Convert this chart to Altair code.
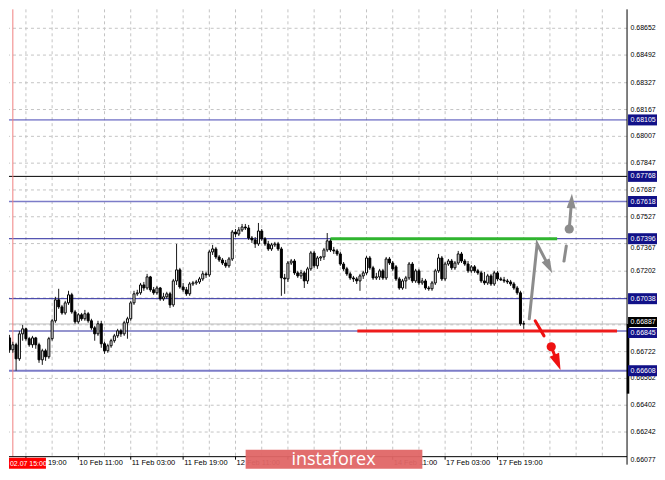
import altair as alt
import pandas as pd

# ---------------- data ----------------
opens = [0.66977,0.66876,0.66804,0.66733,0.66763,0.66679,0.66828,0.66858,0.66799,0.66763,
0.66804,0.66763,0.66673,0.66727,0.66691,0.66799,0.66906,0.67031,0.66989,0.66953,
0.67013,0.67061,0.66959,0.66900,0.66942,0.66918,0.66948,0.66906,0.66864,0.66828,
0.66888,0.66769,0.66727,0.66757,0.66787,0.66816,0.66846,0.66828,0.66894,0.66918,
0.67013,0.67067,0.67073,0.67120,0.67102,0.67168,0.67091,0.67073,0.67102,0.67037,
0.67049,0.67067,0.67001,0.67144,0.67210,0.67108,0.67091,0.67067,0.67126,0.67132,
0.67138,0.67156,0.67186,0.67180,0.67317,0.67335,0.67287,0.67269,0.67251,0.67234,
0.67275,0.67436,0.67424,0.67448,0.67466,0.67460,0.67400,0.67389,0.67365,0.67442,
0.67395,0.67365,0.67335,0.67359,0.67365,0.67335,0.67162,0.67156,0.67251,0.67263,
0.67192,0.67174,0.67192,0.67144,0.67216,0.67311,0.67234,0.67281,0.67287,0.67329,
0.67383,0.67329,0.67323,0.67305,0.67245,0.67216,0.67186,0.67162,0.67156,0.67144,
0.67174,0.67192,0.67281,0.67222,0.67162,0.67168,0.67204,0.67162,0.67275,0.67251,
0.67228,0.67156,0.67102,0.67144,0.67162,0.67245,0.67144,0.67204,0.67132,0.67144,
0.67102,0.67097,0.67132,0.67204,0.67281,0.67156,0.67245,0.67263,0.67222,0.67251,
0.67305,0.67263,0.67245,0.67204,0.67228,0.67204,0.67192,0.67144,0.67132,0.67174,
0.67126,0.67192,0.67156,0.67150,0.67144,0.67138,0.67126,0.67102,0.67073,0.66888]

closes = [0.66876,0.66804,0.66733,0.66763,0.66679,0.66828,0.66858,0.66799,0.66763,0.66804,
0.66763,0.66673,0.66727,0.66691,0.66799,0.66906,0.67031,0.66989,0.66953,0.67013,
0.67061,0.66959,0.66900,0.66942,0.66918,0.66948,0.66906,0.66864,0.66828,0.66888,
0.66769,0.66727,0.66757,0.66787,0.66816,0.66846,0.66828,0.66894,0.66918,0.67013,
0.67067,0.67073,0.67120,0.67102,0.67168,0.67091,0.67073,0.67102,0.67037,0.67049,
0.67067,0.67001,0.67144,0.67210,0.67108,0.67091,0.67067,0.67126,0.67132,0.67138,
0.67156,0.67186,0.67180,0.67317,0.67335,0.67287,0.67269,0.67251,0.67234,0.67275,
0.67436,0.67424,0.67448,0.67466,0.67460,0.67400,0.67389,0.67365,0.67442,0.67395,
0.67365,0.67335,0.67359,0.67365,0.67335,0.67162,0.67156,0.67251,0.67263,0.67192,
0.67174,0.67192,0.67144,0.67216,0.67311,0.67234,0.67281,0.67287,0.67329,0.67383,
0.67329,0.67323,0.67305,0.67245,0.67216,0.67186,0.67162,0.67156,0.67144,0.67174,
0.67192,0.67281,0.67222,0.67162,0.67168,0.67204,0.67162,0.67275,0.67251,0.67216,
0.67156,0.67102,0.67144,0.67162,0.67245,0.67144,0.67204,0.67132,0.67144,0.67102,
0.67097,0.67132,0.67204,0.67281,0.67156,0.67245,0.67263,0.67222,0.67251,0.67305,
0.67263,0.67245,0.67204,0.67228,0.67204,0.67192,0.67144,0.67132,0.67174,0.67126,
0.67192,0.67156,0.67150,0.67144,0.67138,0.67126,0.67102,0.67073,0.66888,0.66887]

highs = [0.67001,0.66894,0.66822,0.66781,0.66775,0.66846,0.66882,0.66864,0.66810,0.66816,
0.66810,0.66775,0.66739,0.66739,0.66810,0.66918,0.67049,0.67097,0.67001,0.67025,
0.67085,0.67073,0.66971,0.66953,0.66953,0.66971,0.66959,0.66918,0.66876,0.66906,
0.66906,0.66781,0.66769,0.66799,0.66828,0.66858,0.66858,0.66906,0.66930,0.67025,
0.67085,0.67091,0.67132,0.67138,0.67186,0.67174,0.67108,0.67114,0.67108,0.67073,
0.67079,0.67079,0.67156,0.67365,0.67222,0.67132,0.67108,0.67138,0.67144,0.67150,
0.67168,0.67204,0.67198,0.67329,0.67359,0.67347,0.67299,0.67281,0.67269,0.67287,
0.67448,0.67454,0.67466,0.67484,0.67484,0.67478,0.67412,0.67406,0.67490,0.67454,
0.67406,0.67383,0.67371,0.67377,0.67377,0.67347,0.67186,0.67263,0.67275,0.67275,
0.67204,0.67210,0.67204,0.67228,0.67323,0.67323,0.67293,0.67293,0.67341,0.67430,
0.67395,0.67347,0.67335,0.67317,0.67257,0.67228,0.67198,0.67174,0.67168,0.67186,
0.67204,0.67293,0.67293,0.67234,0.67192,0.67216,0.67216,0.67287,0.67287,0.67263,
0.67239,0.67168,0.67156,0.67174,0.67257,0.67257,0.67216,0.67216,0.67162,0.67156,
0.67114,0.67144,0.67216,0.67305,0.67293,0.67257,0.67275,0.67275,0.67263,0.67323,
0.67317,0.67275,0.67263,0.67239,0.67239,0.67216,0.67204,0.67198,0.67186,0.67186,
0.67204,0.67204,0.67168,0.67168,0.67156,0.67150,0.67138,0.67114,0.67085,0.66906]

lows = [0.66846,0.66787,0.66715,0.66715,0.66608,0.66667,0.66787,0.66787,0.66751,0.66745,
0.66739,0.66655,0.66643,0.66667,0.66679,0.66787,0.66894,0.66977,0.66942,0.66942,
0.67001,0.66948,0.66888,0.66888,0.66906,0.66906,0.66894,0.66852,0.66787,0.66816,
0.66745,0.66709,0.66715,0.66745,0.66775,0.66804,0.66810,0.66816,0.66799,0.66906,
0.67001,0.67055,0.67061,0.67085,0.67091,0.67079,0.67061,0.67061,0.67025,0.67025,
0.67037,0.66983,0.66989,0.67120,0.67097,0.67079,0.67055,0.67055,0.67114,0.67120,
0.67126,0.67144,0.67162,0.67168,0.67299,0.67275,0.67257,0.67239,0.67222,0.67222,
0.67263,0.67406,0.67412,0.67436,0.67448,0.67389,0.67371,0.67341,0.67353,0.67383,
0.67353,0.67323,0.67323,0.67347,0.67323,0.67055,0.67067,0.67138,0.67239,0.67180,
0.67162,0.67156,0.67102,0.67126,0.67204,0.67222,0.67216,0.67263,0.67269,0.67317,
0.67317,0.67305,0.67293,0.67234,0.67204,0.67174,0.67150,0.67138,0.67126,0.67085,
0.67156,0.67180,0.67210,0.67150,0.67150,0.67150,0.67150,0.67150,0.67239,0.67204,
0.67144,0.67091,0.67091,0.67097,0.67150,0.67132,0.67132,0.67120,0.67120,0.67091,
0.67085,0.67085,0.67120,0.67192,0.67144,0.67144,0.67234,0.67210,0.67210,0.67239,
0.67251,0.67234,0.67192,0.67192,0.67192,0.67180,0.67132,0.67120,0.67120,0.67114,
0.67114,0.67144,0.67144,0.67132,0.67126,0.67114,0.67091,0.67061,0.66876,0.66858]

# price levels (horizontal lines) and their right-edge labels
levels = [0.68105, 0.67768, 0.67618, 0.67396, 0.67038, 0.66608]
level_line_colors = ["#4646b4", "#000000", "#7c7cc8", "#2a2a9e", "#2a2a9e", "#7c7cc8"]
level_line_widths = [1, 1, 1.5, 1, 1, 2]
bid_level = 0.66887          # current price (black box)
support_level = 0.66845      # blue box just below it

# y axis: grid at every tick, labels where the reference shows them
y_ticks = [0.68652, 0.68492, 0.68327, 0.68167, 0.68007, 0.67847, 0.67687, 0.67527, 0.67367,
           0.67202, 0.67042, 0.66882, 0.66722, 0.66562, 0.66402, 0.66242, 0.66077]
y_labels_shown = [0.68652, 0.68492, 0.68327, 0.68167, 0.68007, 0.67847, 0.67687, 0.67527,
                  0.67202, 0.66722, 0.66562, 0.66402, 0.66242, 0.66077]
y_label_peek = 0.67367       # mostly hidden below the 0.67396 box

# time axis (bar index based, one bar = 1 hour, weekend skipped)
x_tick_pos = [7, 23, 39, 55, 71, 87, 103, 119, 135, 151]
x_label_pos = [23, 39, 55, 71, 119, 135, 151]
x_label_text = ["10 Feb 11:00", "11 Feb 03:00", "11 Feb 19:00", "12 Feb 11:00",
                "14 Feb 11:00", "17 Feb 03:00", "17 Feb 19:00"]
first_label_pos = 7
first_label_text = "19:00"
v_grid = [7, 15, 23, 31, 39, 47, 55, 63, 71, 79, 87, 95, 103, 111, 119, 127, 135, 143, 151,
          159, 167, 175, 183]
marker_bar = 3            # 02.07 15:00
marker_label = "02.07 15:00"

# green resistance and red support segments
green_seg = {"x0": 100, "x1": 169.2, "p": 0.67396}
red_seg = {"x0": 108.2, "x1": 187.5, "p": 0.66845}

# drawn forecast arrows: (group, bar index, price)
arrow_paths = [
    ("g1", 160.7, 0.66918), ("g1", 163.1, 0.67365), ("g1", 166.7, 0.67229),
    ("g2", 171.3, 0.67263), ("g2", 172.0, 0.67353),
    ("g3", 172.9, 0.67454), ("g3", 173.6, 0.67621),
    ("r1", 162.5, 0.66906), ("r1", 165.2, 0.66816),
    ("r2", 167.4, 0.66751), ("r2", 169.3, 0.66658),
]
arrow_colors = {"g": "#8c8c8c", "r": "#ee1111"}
dots = [(172.9, 0.67454, "g"), (167.4, 0.66751, "r")]
heads = [(166.7, 0.67229, 153, "g", 210), (173.6, 0.67621, 3, "g", 210), (169.3, 0.66658, 158, "r", 270)]

price_bar = [0.66887, 0.66471]

# ---------------- chart ----------------
X_DOMAIN = [1.83, 190.55]
Y_DOMAIN = [0.66095, 0.68765]
W, H = 619, 448
FONT = "Liberation Sans"
FS = 7.5
YFS = 7
NAVY = "#111188"
BOX_R = W + 30

xs = alt.Scale(domain=X_DOMAIN, nice=False, zero=False, padding=0)
ys = alt.Scale(domain=Y_DOMAIN, nice=False, zero=False, padding=0)


def X(f):
    return alt.X(f, type="quantitative", scale=xs, axis=None)


def Y(f):
    return alt.Y(f, type="quantitative", scale=ys, axis=None)


one = pd.DataFrame({"a": [0]})

candles = pd.DataFrame({"i": list(range(len(opens))), "open": opens, "close": closes,
                        "high": highs, "low": lows})
candles["dir"] = ["up" if c >= o else "down" for o, c in zip(opens, closes)]

# grid
vgrid = alt.Chart(pd.DataFrame({"i": v_grid})).mark_rule(
    color="#c4c4c4", strokeDash=[3, 3], strokeWidth=1).encode(x=X("i"))
hgrid = alt.Chart(pd.DataFrame({"p": y_ticks})).mark_rule(
    color="#c4c4c4", strokeDash=[3, 3], strokeWidth=1, clip=True).encode(y=Y("p"))

lev_df = pd.DataFrame({"p": levels, "c": level_line_colors, "w": level_line_widths})
lev_lines = alt.Chart(lev_df).mark_rule().encode(
    y=Y("p"), color=alt.Color("c:N", scale=None), size=alt.Size("w:Q", scale=None))
bid_line = alt.Chart(pd.DataFrame({"p": [bid_level]})).mark_rule(
    color="#bdbdbd", strokeWidth=1).encode(y=Y("p"))
sup_line = alt.Chart(pd.DataFrame({"p": [support_level]})).mark_rule(
    color="#2a2a9e", strokeWidth=1).encode(y=Y("p"))

marker_line = alt.Chart(pd.DataFrame({"i": [marker_bar]})).mark_rule(
    color="#f08080", strokeWidth=1).encode(x=X("i"))

wicks = alt.Chart(candles).mark_rule(color="#1a1a1a", strokeWidth=1, clip=True).encode(
    x=X("i"), y=Y("low"), y2="high")
bodies = alt.Chart(candles).mark_bar(size=2, stroke="#000000", strokeWidth=1, clip=True).encode(
    x=X("i"), y=Y("open"), y2="close",
    color=alt.Color("dir:N", scale=alt.Scale(domain=["up", "down"], range=["#ffffff", "#000000"]),
                    legend=None))

green = alt.Chart(pd.DataFrame([green_seg])).mark_rule(color="#2fb52f", strokeWidth=3).encode(
    x=X("x0"), x2="x1", y=Y("p"))
red = alt.Chart(pd.DataFrame([red_seg])).mark_rule(color="#ee1c1c", strokeWidth=3).encode(
    x=X("x0"), x2="x1", y=Y("p"))

ap = pd.DataFrame(arrow_paths, columns=["g", "i", "p"])
ap["k"] = range(len(ap))
ap["c"] = [arrow_colors[g[0]] for g in ap["g"]]
paths = alt.Chart(ap).mark_line(strokeWidth=3, strokeCap="round").encode(
    x=X("i"), y=Y("p"), detail="g:N", order="k:Q", color=alt.Color("c:N", scale=None))

dots_df = pd.DataFrame(dots, columns=["i", "p", "g"])
dots_df["c"] = [arrow_colors[g] for g in dots_df["g"]]
dot_marks = alt.Chart(dots_df).mark_point(shape="circle", filled=True, opacity=1, size=85).encode(
    x=X("i"), y=Y("p"), color=alt.Color("c:N", scale=None))

heads_df = pd.DataFrame(heads, columns=["i", "p", "a", "g", "s"])
heads_df["c"] = [arrow_colors[g] for g in heads_df["g"]]
head_marks = alt.Chart(heads_df).mark_point(shape="M0,-1L0.62,1L-0.62,1Z", filled=True,
                                             opacity=1).encode(
    x=X("i"), y=Y("p"), angle=alt.Angle("a:Q", scale=None), size=alt.Size("s:Q", scale=None),
    color=alt.Color("c:N", scale=None))

# axes drawn by hand
right_dom = alt.Chart(one).mark_rule(color="black", strokeWidth=1).encode(
    x=alt.value(W), y=alt.value(0), y2=alt.value(H + 8))
bottom_dom = alt.Chart(one).mark_rule(color="black", strokeWidth=1).encode(
    x=alt.value(0), x2=alt.value(W), y=alt.value(H))
ylab_df = pd.DataFrame({"p": y_labels_shown, "t": [f"{v:.5f}" for v in y_labels_shown]})
y_labels = alt.Chart(ylab_df).mark_text(align="left", baseline="middle", fontSize=YFS, font=FONT,
                                        color="black").encode(
    x=alt.value(W + 3.5), y=Y("p"), text="t:N")
y_peek = alt.Chart(pd.DataFrame({"p": [y_label_peek], "t": [f"{y_label_peek:.5f}"]})).mark_text(
    align="left", baseline="middle", fontSize=YFS, font=FONT, color="black", dy=4.5).encode(
    x=alt.value(W + 3.5), y=Y("p"), text="t:N")
x_ticks = alt.Chart(pd.DataFrame({"i": x_tick_pos})).mark_rule(color="black", strokeWidth=1).encode(
    x=X("i"), y=alt.value(H), y2=alt.value(H + 3))
xl_df = pd.DataFrame({"i": x_label_pos, "t": x_label_text})
x_labels = alt.Chart(xl_df).mark_text(align="left", baseline="top", fontSize=FS, font=FONT,
                                      color="black", dx=1).encode(
    x=X("i"), y=alt.value(H + 2), text="t:N")
x_first = alt.Chart(pd.DataFrame({"i": [first_label_pos], "t": [first_label_text]})).mark_text(
    align="left", baseline="top", fontSize=FS, font=FONT, color="black", dx=22).encode(
    x=X("i"), y=alt.value(H + 2), text="t:N")

pbar = alt.Chart(pd.DataFrame({"p0": [price_bar[0]], "p1": [price_bar[1]]})).mark_rule(
    color="black", strokeWidth=2.5).encode(x=alt.value(W + 1), y=Y("p0"), y2="p1")

# right-edge price boxes
lvl_box_df = pd.DataFrame({"p": levels, "t": [f"{v:.5f}" for v in levels]})
boxes = alt.Chart(lvl_box_df).mark_rect(yOffset=-5.5, y2Offset=5.5, color=NAVY).encode(
    x=alt.value(W + 1), x2=alt.value(BOX_R), y=Y("p"), y2="p")
box_text = alt.Chart(lvl_box_df).mark_text(align="left", baseline="middle", fontSize=YFS, font=FONT,
                                           color="white").encode(
    x=alt.value(W + 3.5), y=Y("p"), text="t:N")
bid_df = pd.DataFrame({"p": [bid_level], "t": [f"{bid_level:.5f}"]})
sup_df = pd.DataFrame({"p": [support_level], "t": [f"{support_level:.5f}"]})
bid_box = alt.Chart(bid_df).mark_rect(yOffset=-7, y2Offset=3, color="#000000").encode(
    x=alt.value(W + 1), x2=alt.value(BOX_R), y=Y("p"), y2="p")
sup_box = alt.Chart(sup_df).mark_rect(yOffset=-3, y2Offset=7, color=NAVY).encode(
    x=alt.value(W + 1), x2=alt.value(BOX_R), y=Y("p"), y2="p")
bid_text = alt.Chart(bid_df).mark_text(
    align="left", baseline="middle", fontSize=YFS, font=FONT, color="white", dy=-2).encode(
    x=alt.value(W + 3.5), y=Y("p"), text="t:N")
sup_text = alt.Chart(sup_df).mark_text(
    align="left", baseline="middle", fontSize=YFS, font=FONT, color="white", dy=2).encode(
    x=alt.value(W + 3.5), y=Y("p"), text="t:N")

mlab_box = alt.Chart(one).mark_rect(color="#ff0000").encode(
    x=alt.value(0), x2=alt.value(37), y=alt.value(H + 1), y2=alt.value(H + 12))
mlab_text = alt.Chart(pd.DataFrame({"t": [marker_label]})).mark_text(
    align="left", baseline="middle", fontSize=7, font=FONT, color="white").encode(
    x=alt.value(1), y=alt.value(H + 7), text="t:N")

wm_box = alt.Chart(one).mark_rect(color="#e06666", opacity=0.95).encode(
    x=alt.value(237), x2=alt.value(414), y=alt.value(H - 7), y2=alt.value(H + 12))
wm_text = alt.Chart(pd.DataFrame({"t": ["instaforex"]})).mark_text(
    align="center", baseline="middle", fontSize=18, font="Open Sans", color="white").encode(
    x=alt.value(325), y=alt.value(H + 3), text="t:N")

chart = alt.layer(
    vgrid, hgrid, lev_lines, bid_line, sup_line, marker_line, wicks, bodies, green, red,
    paths, dot_marks, head_marks, right_dom, bottom_dom, y_labels, y_peek, x_ticks, x_labels,
    x_first, pbar, boxes, box_text, bid_box, sup_box, bid_text, sup_text, mlab_box, mlab_text,
    wm_box, wm_text
).properties(width=W, height=H, padding=0).configure_view(stroke=None)

chart.save("out.html", embed_options={"renderer": "svg", "actions": False})
